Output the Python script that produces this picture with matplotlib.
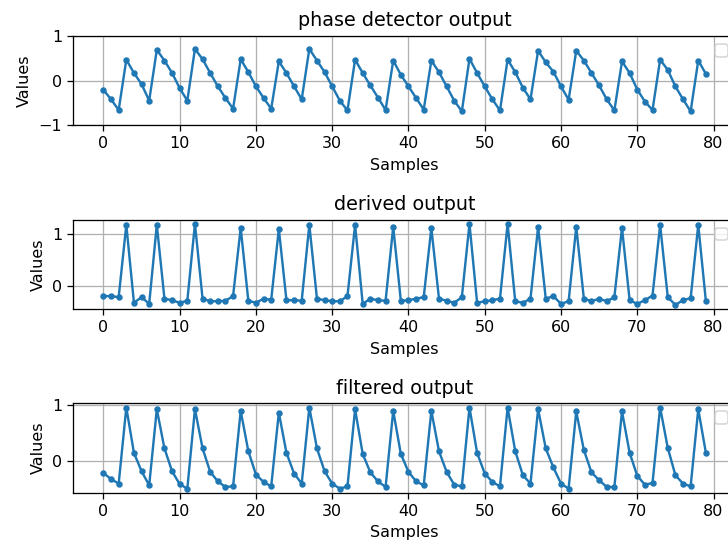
import numpy as np
import matplotlib
matplotlib.use("Agg")
import matplotlib.pyplot as plt


# Valores (80 muestras por serie)
fase = [-0.21, -0.42, -0.66, 0.47, 0.17, -0.08, -0.45, 0.69, 0.45, 0.17,
        -0.17, -0.45, 0.71, 0.48, 0.17, -0.13, -0.39, -0.63, 0.48, 0.19,
        -0.13, -0.39, -0.63, 0.43, 0.17, -0.13, -0.42, 0.71, 0.45, 0.19,
        -0.13, -0.45, -0.67, 0.47, 0.17, -0.11, -0.38, -0.66, 0.45, 0.13,
        -0.13, -0.39, -0.65, 0.45, 0.19, -0.13, -0.45, -0.69, 0.49, 0.17,
        -0.13, -0.42, -0.67, 0.47, 0.19, -0.16, -0.42, 0.67, 0.41, 0.20,
        -0.13, -0.43, 0.67, 0.45, 0.17, -0.11, -0.42, -0.67, 0.43, 0.17,
        -0.20, -0.47, -0.66, 0.47, 0.24, -0.13, -0.42, -0.69, 0.45, 0.15]

derivada = [-0.20, -0.20, -0.22, 1.18, -0.33, -0.22, -0.35, 1.18, -0.25, -0.28,
            -0.33, -0.29, 1.20, -0.25, -0.30, -0.30, -0.29, -0.20, 1.12, -0.29,
            -0.33, -0.25, -0.27, 1.10, -0.28, -0.28, -0.29, 1.18, -0.25, -0.28,
            -0.30, -0.30, -0.20, 1.18, -0.35, -0.25, -0.28, -0.29, 1.14, -0.29,
            -0.28, -0.25, -0.22, 1.12, -0.25, -0.29, -0.33, -0.22, 1.20, -0.33,
            -0.30, -0.28, -0.25, 1.20, -0.30, -0.33, -0.25, 1.14, -0.25, -0.20,
            -0.35, -0.30, 1.14, -0.25, -0.30, -0.25, -0.30, -0.22, 1.12, -0.28,
            -0.35, -0.28, -0.19, 1.18, -0.22, -0.37, -0.28, -0.24, 1.18, -0.30]

filtrada = [-0.21, -0.32, -0.40, 0.96, 0.15, -0.18, -0.43, 0.93, 0.23, -0.18,
            -0.41, -0.49, 0.93, 0.23, -0.19, -0.36, -0.46, -0.45, 0.90, 0.18,
            -0.24, -0.37, -0.45, 0.87, 0.15, -0.22, -0.40, 0.96, 0.23, -0.18,
            -0.40, -0.49, -0.45, 0.93, 0.13, -0.20, -0.36, -0.46, 0.90, 0.13,
            -0.19, -0.36, -0.43, 0.90, 0.18, -0.19, -0.42, -0.45, 0.96, 0.15,
            -0.22, -0.37, -0.45, 0.96, 0.18, -0.25, -0.40, 0.93, 0.23, -0.11,
            -0.40, -0.49, 0.89, 0.20, -0.20, -0.34, -0.46, -0.46, 0.89, 0.15,
            -0.26, -0.42, -0.39, 0.96, 0.24, -0.25, -0.40, -0.45, 0.93, 0.15]

titulos = ["phase detector output", "derived output", "filtered output"]

# dpi 115 para que textos y marcas salgan algo mas grandes, como en la imagen
fig, axs = plt.subplots(3, 1, figsize=(728 / 115, 542 / 115), dpi=115)
fig.subplots_adjust(left=0.1007, right=1.011, top=0.9336, bottom=0.091, hspace=1.06)

for ax, datos, titulo in zip(axs, [fase, derivada, filtrada], titulos):
    ax.plot(np.arange(len(datos)), datos, '.-')
    ax.set_title(titulo)
    ax.set_xlabel('Samples')
    ax.set_ylabel('Values')
    ax.grid(True)
    ax.legend(handles=[])

axs[0].set_ylim(-1, 1)

fig.savefig("out.png", dpi=115)
